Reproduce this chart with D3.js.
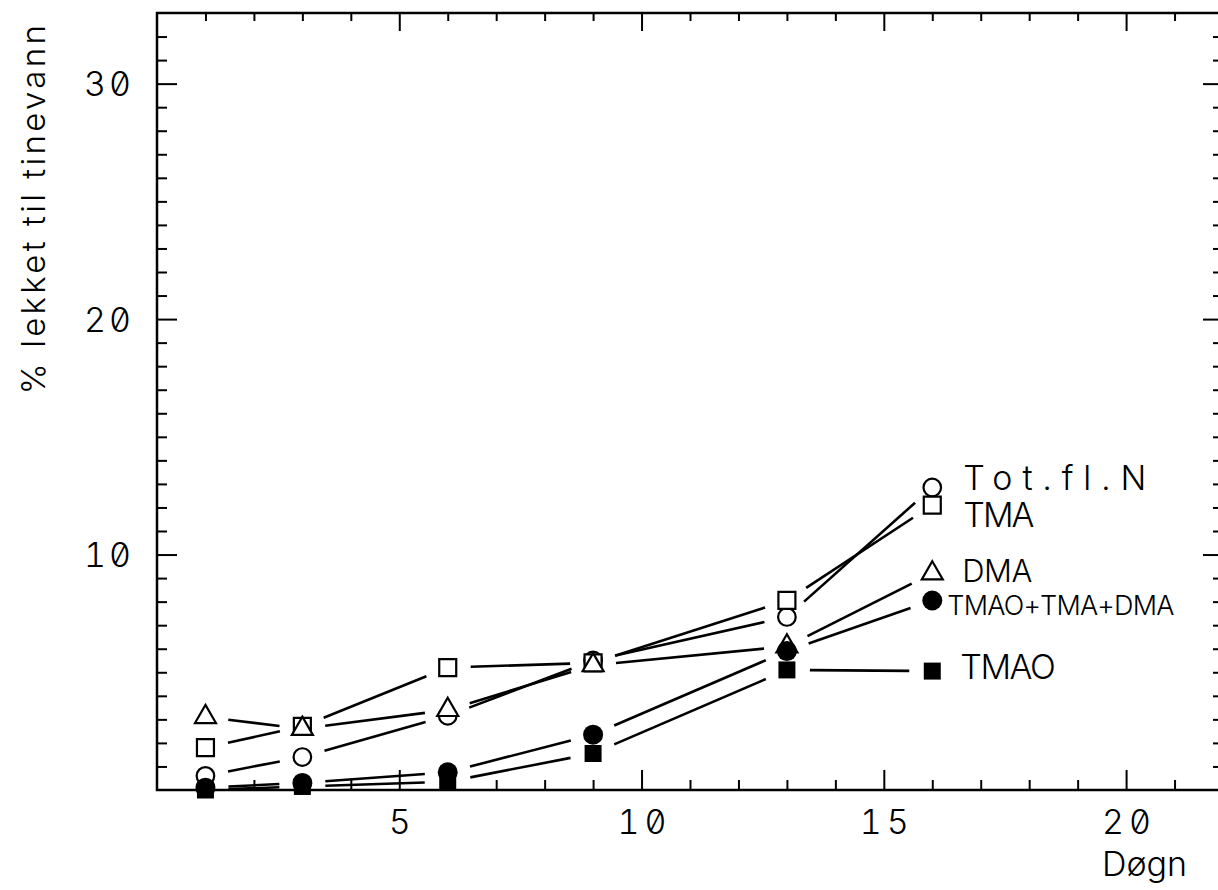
<!DOCTYPE html>
<html>
<head>
<meta charset="utf-8">
<script src="https://cdn.jsdelivr.net/npm/d3@7/dist/d3.min.js"></script>
<style>
  html, body { margin: 0; padding: 0; background: #fff; }
  svg { display: block; }
  .lbl {
    font-family: Inter, "DejaVu Sans", sans-serif;
    font-weight: 300;
    font-feature-settings: "zero" 1, "tnum" 1;
    fill: #000;
  }
</style>
</head>
<body>
<svg id="chart" width="1218" height="890"></svg>
<script>
// Sampling days
const days = [1, 3, 6, 9, 13, 16];

// Percent of each nitrogen fraction leaked to the thaw water
const totFlN    = [0.6, 1.4, 3.15, 5.5, 7.35, 12.85];
const tma       = [1.8, 2.7, 5.2, 5.4, 8.05, 12.1];
const dma       = [3.1, 2.6, 3.4, 5.3, 6.1, 9.2];
const sumAmines = [0.1, 0.3, 0.75, 2.35, 5.9, 8.05];
const tmao      = [0.0, 0.15, 0.35, 1.55, 5.1, 5.05];

// Series names as printed beside the last points
const seriesNames = ["Tot.fl.N", "TMA", "DMA", "TMAO+TMA+DMA", "TMAO"];

// Axis ticks
const xTickLabels = [5, 10, 15, 20];
const yTickLabels = [10, 20, 30];
const xTitle = "Døgn";
const yTitle = "% lekket til tinevann";

const series = [
  { name: seriesNames[0], values: totFlN,    marker: "circle",   filled: false, dy: -10, dx: 31, size: 34, ls: 10 },
  { name: seriesNames[1], values: tma,       marker: "square",   filled: false, dy: 10,  dx: 31, size: 34, ls: -2 },
  { name: seriesNames[2], values: dma,       marker: "triangle", filled: false, dy: -3,  dx: 30, size: 31, ls: -0.5 },
  { name: seriesNames[3], values: sumAmines, marker: "circle",   filled: true,  dy: 5,   dx: 15, size: 27, ls: -0.8 },
  { name: seriesNames[4], values: tmao,      marker: "square",   filled: true,  dy: -4,  dx: 28, size: 34, ls: -1.5 }
];

const svg = d3.select("#chart");

const x = d3.scaleLinear().domain([0, 22]).range([157, 1223]);
const y = d3.scaleLinear().domain([0, 33]).range([790, 13]);

const ink = "#000";

// Frame
svg.append("rect")
  .attr("x", x(0)).attr("y", y(33))
  .attr("width", x(22) - x(0)).attr("height", y(0) - y(33))
  .attr("fill", "none").attr("stroke", ink).attr("stroke-width", 2.5);

const xMinor = d3.range(1, 22).filter(d => d % 5 !== 0);
const yMinor = d3.range(1, 33).filter(d => d % 10 !== 0);

function strip(g) {
  g.select(".domain").remove();
  g.selectAll(".tick line").attr("stroke", ink).attr("stroke-width", 2);
}

// Inward ticks on all four sides
svg.append("g").attr("transform", `translate(0,${y(0)})`)
  .call(d3.axisBottom(x).tickValues(xMinor).tickSize(-10).tickFormat(""))
  .call(strip);
const bottomMajor = svg.append("g").attr("transform", `translate(0,${y(0)})`)
  .call(d3.axisBottom(x).tickValues(xTickLabels).tickSize(-20).tickFormat(d3.format("d")))
  .call(strip);
bottomMajor.selectAll(".tick text")
  .attr("class", "lbl").attr("y", 44).attr("dy", null)
  .attr("dx", 2.5)
  .style("font-size", "34px").style("letter-spacing", "5px");

svg.append("g").attr("transform", `translate(0,${y(33)})`)
  .call(d3.axisTop(x).tickValues(xMinor).tickSize(-8).tickFormat(""))
  .call(strip);
svg.append("g").attr("transform", `translate(0,${y(33)})`)
  .call(d3.axisTop(x).tickValues(xTickLabels).tickSize(-18).tickFormat(""))
  .call(strip);

svg.append("g").attr("transform", `translate(${x(0)},0)`)
  .call(d3.axisLeft(y).tickValues(yMinor).tickSize(-10).tickFormat(""))
  .call(strip);
const leftMajor = svg.append("g").attr("transform", `translate(${x(0)},0)`)
  .call(d3.axisLeft(y).tickValues(yTickLabels).tickSize(-20).tickFormat(d3.format("d")))
  .call(strip);
leftMajor.selectAll(".tick text")
  .attr("class", "lbl").attr("x", -23).attr("dy", "0.36em")
  .style("font-size", "34px").style("letter-spacing", "3px");

svg.append("g").attr("transform", `translate(${x(22)},0)`)
  .call(d3.axisRight(y).tickValues(yMinor).tickSize(-10).tickFormat(""))
  .call(strip);
svg.append("g").attr("transform", `translate(${x(22)},0)`)
  .call(d3.axisRight(y).tickValues(yTickLabels).tickSize(-20).tickFormat(""))
  .call(strip);

// Axis titles
svg.append("text").attr("class", "lbl")
  .attr("x", 1102).attr("y", 876)
  .style("font-size", "34px").style("letter-spacing", "0px")
  .text(xTitle);

svg.append("text").attr("class", "lbl")
  .attr("transform", "translate(45,208) rotate(-90)")
  .attr("text-anchor", "middle")
  .style("font-size", "33px").style("letter-spacing", "3.3px")
  .text(yTitle);

// Connecting segments, trimmed short of the markers
const gap = 23;
const segG = svg.append("g");
series.forEach(s => {
  for (let i = 0; i < days.length - 1; i++) {
    const x0 = x(days[i]), y0 = y(s.values[i]);
    const x1 = x(days[i + 1]), y1 = y(s.values[i + 1]);
    const len = Math.hypot(x1 - x0, y1 - y0);
    const ux = (x1 - x0) / len, uy = (y1 - y0) / len;
    segG.append("line")
      .attr("x1", x0 + ux * gap).attr("y1", y0 + uy * gap)
      .attr("x2", x1 - ux * gap).attr("y2", y1 - uy * gap)
      .attr("stroke", ink).attr("stroke-width", 2.6);
  }
});

// Markers: open symbols first, filled ones on top
const symbolType = { circle: d3.symbolCircle, square: d3.symbolSquare, triangle: d3.symbolTriangle };
const symbolSize = {
  open:   { circle: Math.PI * 8.8 * 8.8, square: 17 * 17, triangle: Math.sqrt(3) / 4 * 21 * 21 },
  filled: { circle: Math.PI * 10 * 10, square: 17 * 17, triangle: 300 }
};
const order = series.filter(s => !s.filled).concat(series.filter(s => s.filled));
order.forEach(s => {
  const sym = d3.symbol().type(symbolType[s.marker])
    .size(symbolSize[s.filled ? "filled" : "open"][s.marker]);
  svg.append("g").selectAll("path")
    .data(days.map((d, i) => [d, s.values[i]]))
    .join("path")
    .attr("transform", d => `translate(${x(d[0])},${y(d[1])})`)
    .attr("d", sym)
    .attr("fill", s.filled ? ink : "#fff")
    .attr("stroke", ink)
    .attr("stroke-width", s.filled ? 0 : 2.2);
});

// Series names beside the day-16 points
const last = days.length - 1;
series.forEach(s => {
  svg.append("text").attr("class", "lbl")
    .attr("x", x(days[last]) + s.dx)
    .attr("y", y(s.values[last]) + s.dy)
    .attr("dy", "0.36em")
    .style("font-size", s.size + "px")
    .style("letter-spacing", s.ls + "px")
    .text(s.name);
});
</script>
</body>
</html>
